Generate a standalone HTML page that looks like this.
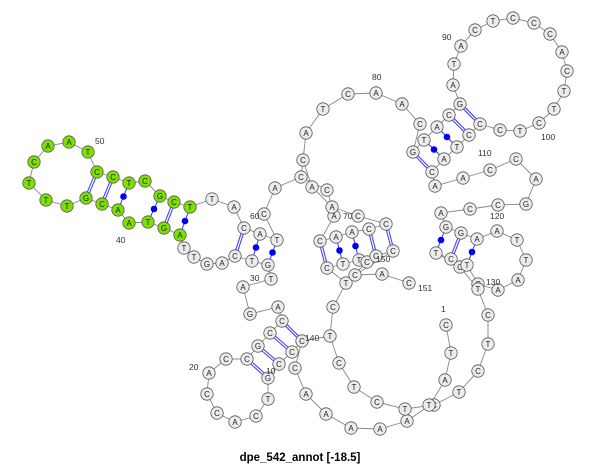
<!DOCTYPE html>
<html><head><meta charset="utf-8"><style>
html,body{margin:0;padding:0;background:#fff;}
svg{display:block}
.b{fill:none;stroke:#888;stroke-width:0.9}
.d1{stroke:#4444ff;stroke-width:3.4}
.d2{stroke:#fff;stroke-width:1.2}
.p{stroke:#3333ff;stroke-width:1}
circle.n{fill:#ececec;stroke:#555;stroke-width:0.8}
circle.g{fill:#7de000;stroke:#555;stroke-width:0.8}
circle{r:6.2px}
text{font-family:"Liberation Sans",sans-serif}
.t text{font-size:8px;text-anchor:middle;fill:#222}
.l{font-size:8.5px;fill:#333}
</style></head><body>
<svg width="600" height="466" viewBox="0 0 600 466">
<polyline class="b" points="88,152 69,142 48,146 34,162 29,183 46,200 67,206 86,198 102,204 118,210 129,223 148,222 164,228 180,235 184,248 194,257 207,264 222,263 235,256 252,261 268,265 271,279 243,287 250,314 278,307 282,321 270,333 258,346 247,359 226,359 209,373 207,394 217,413 235,422 256,416 268,399 268,378 279,364 292,352 302,341 295,368 306,394 326,414 351,428 380,429 407,421 430,405 445,380 451,353 446,325"/>
<polyline class="b" points="88,152 97,172 113,177 129,183 145,181 160,196 174,202 190,207 212,199 234,207 244,228 260,234 277,240 264,214 275,188 301,177 303,160 306,133 323,109 348,94 376,93 402,104 420,124 413,152 424,140 437,127 449,115 460,104 453,85 454,64 461,46 475,30 493,21 513,18 534,23 550,34 562,52 567,71 564,91 554,109 539,123 520,131 500,130 480,124 469,135 457,147 444,159 432,172 435,186 463,178 490,170 516,159 536,179 526,204 498,205 470,209 441,213 446,227 461,233 477,239 497,231 517,240 526,260 518,280 498,290 478,284 467,265 451,259 436,253 460,267 478,289 488,315 488,344 478,371 459,392 434,405 405,409 377,402 354,387 339,363 330,336 333,307 346,283 355,275"/>
<polyline class="b" points="303,160 312,187 332,207 358,216 386,224"/>
<polyline class="b" points="301,177 327,190 332,207 334,216 320,241 336,237 352,232 369,229 386,224"/>
<polyline class="b" points="327,268 343,264 359,260 376,256 393,251 355,275 382,274 409,283"/>
<polyline class="b" points="327,268 346,283 367,262"/>
<line class="b" x1="302" y1="341" x2="330" y2="336"/>
<g fill="none">
<path class="d1" d="M97,172L86,198M113,177L102,204M174,202L164,228M244,228L235,256M282,321L302,341M270,333L292,352M258,346L279,364M247,359L268,378M413,152L432,172M449,115L469,135M460,104L480,124M461,233L451,259M320,241L327,268M369,229L376,256M386,224L393,251"/>
<path class="d2" d="M97,172L86,198M113,177L102,204M174,202L164,228M244,228L235,256M282,321L302,341M270,333L292,352M258,346L279,364M247,359L268,378M413,152L432,172M449,115L469,135M460,104L480,124M461,233L451,259M320,241L327,268M369,229L376,256M386,224L393,251"/>
<path class="p" d="M129,183L118,210M160,196L148,222M190,207L180,235M260,234L252,261M277,240L268,265M424,140L444,159M437,127L457,147M446,227L436,253M477,239L467,265M336,237L343,264M352,232L359,260"/>
</g>
<g fill="#0000ee">
<circle cx="123.5" cy="196.5" r="3.3" style="r:3.3px"/><circle cx="154" cy="209" r="3.3" style="r:3.3px"/><circle cx="185" cy="221" r="3.3" style="r:3.3px"/><circle cx="256" cy="247.5" r="3.3" style="r:3.3px"/><circle cx="272.5" cy="252.5" r="3.3" style="r:3.3px"/><circle cx="434" cy="149.5" r="3.3" style="r:3.3px"/><circle cx="447" cy="137" r="3.3" style="r:3.3px"/><circle cx="441" cy="240" r="3.3" style="r:3.3px"/><circle cx="472" cy="252" r="3.3" style="r:3.3px"/><circle cx="339.5" cy="250.5" r="3.3" style="r:3.3px"/><circle cx="355.5" cy="246" r="3.3" style="r:3.3px"/>
</g>
<g class="t">
<g><circle class="g" cx="48" cy="146"/><text x="48" y="149">A</text></g>
<g><circle class="g" cx="69" cy="142"/><text x="69" y="145">A</text></g>
<g><circle class="g" cx="88" cy="152"/><text x="88" y="155">T</text></g>
<g><circle class="g" cx="34" cy="162"/><text x="34" y="165">C</text></g>
<g><circle class="g" cx="29" cy="183"/><text x="29" y="186">T</text></g>
<g><circle class="g" cx="46" cy="200"/><text x="46" y="203">T</text></g>
<g><circle class="g" cx="67" cy="206"/><text x="67" y="209">T</text></g>
<g><circle class="g" cx="86" cy="198"/><text x="86" y="201">G</text></g>
<g><circle class="g" cx="97" cy="172"/><text x="97" y="175">C</text></g>
<g><circle class="g" cx="113" cy="177"/><text x="113" y="180">C</text></g>
<g><circle class="g" cx="129" cy="183"/><text x="129" y="186">T</text></g>
<g><circle class="g" cx="145" cy="181"/><text x="145" y="184">C</text></g>
<g><circle class="g" cx="102" cy="204"/><text x="102" y="207">C</text></g>
<g><circle class="g" cx="118" cy="210"/><text x="118" y="213">A</text></g>
<g><circle class="g" cx="129" cy="223"/><text x="129" y="226">A</text></g>
<g><circle class="g" cx="148" cy="222"/><text x="148" y="225">T</text></g>
<g><circle class="g" cx="160" cy="196"/><text x="160" y="199">G</text></g>
<g><circle class="g" cx="174" cy="202"/><text x="174" y="205">C</text></g>
<g><circle class="g" cx="190" cy="207"/><text x="190" y="210">T</text></g>
<g><circle class="g" cx="164" cy="228"/><text x="164" y="231">G</text></g>
<g><circle class="g" cx="180" cy="235"/><text x="180" y="238">A</text></g>
<g><circle class="n" cx="212" cy="199"/><text x="212" y="202">T</text></g>
<g><circle class="n" cx="234" cy="207"/><text x="234" y="210">A</text></g>
<g><circle class="n" cx="244" cy="228"/><text x="244" y="231">C</text></g>
<g><circle class="n" cx="260" cy="234"/><text x="260" y="237">A</text></g>
<g><circle class="n" cx="277" cy="240"/><text x="277" y="243">T</text></g>
<g><circle class="n" cx="264" cy="214"/><text x="264" y="217">C</text></g>
<g><circle class="n" cx="275" cy="188"/><text x="275" y="191">A</text></g>
<g><circle class="n" cx="301" cy="177"/><text x="301" y="180">C</text></g>
<g><circle class="n" cx="303" cy="160"/><text x="303" y="163">C</text></g>
<g><circle class="n" cx="306" cy="133"/><text x="306" y="136">A</text></g>
<g><circle class="n" cx="323" cy="109"/><text x="323" y="112">T</text></g>
<g><circle class="n" cx="348" cy="94"/><text x="348" y="97">C</text></g>
<g><circle class="n" cx="376" cy="93"/><text x="376" y="96">A</text></g>
<g><circle class="n" cx="402" cy="104"/><text x="402" y="107">A</text></g>
<g><circle class="n" cx="420" cy="124"/><text x="420" y="127">C</text></g>
<g><circle class="n" cx="413" cy="152"/><text x="413" y="155">G</text></g>
<g><circle class="n" cx="424" cy="140"/><text x="424" y="143">T</text></g>
<g><circle class="n" cx="437" cy="127"/><text x="437" y="130">A</text></g>
<g><circle class="n" cx="449" cy="115"/><text x="449" y="118">C</text></g>
<g><circle class="n" cx="460" cy="104"/><text x="460" y="107">G</text></g>
<g><circle class="n" cx="453" cy="85"/><text x="453" y="88">A</text></g>
<g><circle class="n" cx="454" cy="64"/><text x="454" y="67">T</text></g>
<g><circle class="n" cx="461" cy="46"/><text x="461" y="49">A</text></g>
<g><circle class="n" cx="475" cy="30"/><text x="475" y="33">C</text></g>
<g><circle class="n" cx="493" cy="21"/><text x="493" y="24">T</text></g>
<g><circle class="n" cx="513" cy="18"/><text x="513" y="21">C</text></g>
<g><circle class="n" cx="534" cy="23"/><text x="534" y="26">C</text></g>
<g><circle class="n" cx="550" cy="34"/><text x="550" y="37">C</text></g>
<g><circle class="n" cx="562" cy="52"/><text x="562" y="55">A</text></g>
<g><circle class="n" cx="567" cy="71"/><text x="567" y="74">C</text></g>
<g><circle class="n" cx="564" cy="91"/><text x="564" y="94">T</text></g>
<g><circle class="n" cx="554" cy="109"/><text x="554" y="112">T</text></g>
<g><circle class="n" cx="539" cy="123"/><text x="539" y="126">C</text></g>
<g><circle class="n" cx="520" cy="131"/><text x="520" y="134">T</text></g>
<g><circle class="n" cx="500" cy="130"/><text x="500" y="133">C</text></g>
<g><circle class="n" cx="480" cy="124"/><text x="480" y="127">C</text></g>
<g><circle class="n" cx="469" cy="135"/><text x="469" y="138">C</text></g>
<g><circle class="n" cx="457" cy="147"/><text x="457" y="150">T</text></g>
<g><circle class="n" cx="444" cy="159"/><text x="444" y="162">A</text></g>
<g><circle class="n" cx="432" cy="172"/><text x="432" y="175">C</text></g>
<g><circle class="n" cx="435" cy="186"/><text x="435" y="189">A</text></g>
<g><circle class="n" cx="463" cy="178"/><text x="463" y="181">A</text></g>
<g><circle class="n" cx="490" cy="170"/><text x="490" y="173">C</text></g>
<g><circle class="n" cx="516" cy="159"/><text x="516" y="162">C</text></g>
<g><circle class="n" cx="536" cy="179"/><text x="536" y="182">A</text></g>
<g><circle class="n" cx="526" cy="204"/><text x="526" y="207">G</text></g>
<g><circle class="n" cx="498" cy="205"/><text x="498" y="208">C</text></g>
<g><circle class="n" cx="470" cy="209"/><text x="470" y="212">C</text></g>
<g><circle class="n" cx="441" cy="213"/><text x="441" y="216">A</text></g>
<g><circle class="n" cx="446" cy="227"/><text x="446" y="230">G</text></g>
<g><circle class="n" cx="461" cy="233"/><text x="461" y="236">G</text></g>
<g><circle class="n" cx="477" cy="239"/><text x="477" y="242">A</text></g>
<g><circle class="n" cx="497" cy="231"/><text x="497" y="234">A</text></g>
<g><circle class="n" cx="517" cy="240"/><text x="517" y="243">T</text></g>
<g><circle class="n" cx="526" cy="260"/><text x="526" y="263">T</text></g>
<g><circle class="n" cx="518" cy="280"/><text x="518" y="283">A</text></g>
<g><circle class="n" cx="498" cy="290"/><text x="498" y="293">A</text></g>
<g><circle class="n" cx="478" cy="284"/><text x="478" y="287">C</text></g>
<g><circle class="n" cx="478" cy="289"/><text x="478" y="292">T</text></g>
<g><circle class="n" cx="436" cy="253"/><text x="436" y="256">T</text></g>
<g><circle class="n" cx="451" cy="259"/><text x="451" y="262">C</text></g>
<g><circle class="n" cx="460" cy="267"/><text x="460" y="270">C</text></g>
<g><circle class="n" cx="467" cy="265"/><text x="467" y="268">T</text></g>
<g><circle class="n" cx="488" cy="315"/><text x="488" y="318">C</text></g>
<g><circle class="n" cx="488" cy="344"/><text x="488" y="347">T</text></g>
<g><circle class="n" cx="478" cy="371"/><text x="478" y="374">C</text></g>
<g><circle class="n" cx="459" cy="392"/><text x="459" y="395">T</text></g>
<g><circle class="n" cx="434" cy="405"/><text x="434" y="408">C</text></g>
<g><circle class="n" cx="429" cy="405"/><text x="429" y="408">T</text></g>
<g><circle class="n" cx="445" cy="380"/><text x="445" y="383">A</text></g>
<g><circle class="n" cx="451" cy="353"/><text x="451" y="356">T</text></g>
<g><circle class="n" cx="446" cy="325"/><text x="446" y="328">C</text></g>
<g><circle class="n" cx="407" cy="421"/><text x="407" y="424">A</text></g>
<g><circle class="n" cx="380" cy="429"/><text x="380" y="432">A</text></g>
<g><circle class="n" cx="351" cy="428"/><text x="351" y="431">A</text></g>
<g><circle class="n" cx="326" cy="414"/><text x="326" y="417">A</text></g>
<g><circle class="n" cx="306" cy="394"/><text x="306" y="397">A</text></g>
<g><circle class="n" cx="295" cy="368"/><text x="295" y="371">C</text></g>
<g><circle class="n" cx="302" cy="341"/><text x="302" y="344">C</text></g>
<g><circle class="n" cx="292" cy="352"/><text x="292" y="355">C</text></g>
<g><circle class="n" cx="279" cy="364"/><text x="279" y="367">C</text></g>
<g><circle class="n" cx="268" cy="378"/><text x="268" y="381">G</text></g>
<g><circle class="n" cx="268" cy="399"/><text x="268" y="402">T</text></g>
<g><circle class="n" cx="256" cy="416"/><text x="256" y="419">C</text></g>
<g><circle class="n" cx="235" cy="422"/><text x="235" y="425">A</text></g>
<g><circle class="n" cx="217" cy="413"/><text x="217" y="416">C</text></g>
<g><circle class="n" cx="207" cy="394"/><text x="207" y="397">C</text></g>
<g><circle class="n" cx="209" cy="373"/><text x="209" y="376">A</text></g>
<g><circle class="n" cx="226" cy="359"/><text x="226" y="362">C</text></g>
<g><circle class="n" cx="247" cy="359"/><text x="247" y="362">C</text></g>
<g><circle class="n" cx="258" cy="346"/><text x="258" y="349">G</text></g>
<g><circle class="n" cx="270" cy="333"/><text x="270" y="336">C</text></g>
<g><circle class="n" cx="282" cy="321"/><text x="282" y="324">C</text></g>
<g><circle class="n" cx="278" cy="307"/><text x="278" y="310">A</text></g>
<g><circle class="n" cx="250" cy="314"/><text x="250" y="317">G</text></g>
<g><circle class="n" cx="243" cy="287"/><text x="243" y="290">A</text></g>
<g><circle class="n" cx="271" cy="279"/><text x="271" y="282">T</text></g>
<g><circle class="n" cx="268" cy="265"/><text x="268" y="268">G</text></g>
<g><circle class="n" cx="252" cy="261"/><text x="252" y="264">T</text></g>
<g><circle class="n" cx="235" cy="256"/><text x="235" y="259">C</text></g>
<g><circle class="n" cx="222" cy="263"/><text x="222" y="266">A</text></g>
<g><circle class="n" cx="207" cy="264"/><text x="207" y="267">G</text></g>
<g><circle class="n" cx="194" cy="257"/><text x="194" y="260">T</text></g>
<g><circle class="n" cx="184" cy="248"/><text x="184" y="251">T</text></g>
<g><circle class="n" cx="330" cy="336"/><text x="330" y="339">T</text></g>
<g><circle class="n" cx="333" cy="307"/><text x="333" y="310">C</text></g>
<g><circle class="n" cx="346" cy="283"/><text x="346" y="286">T</text></g>
<g><circle class="n" cx="355" cy="275"/><text x="355" y="278">C</text></g>
<g><circle class="n" cx="382" cy="274"/><text x="382" y="277">A</text></g>
<g><circle class="n" cx="409" cy="283"/><text x="409" y="286">C</text></g>
<g><circle class="n" cx="327" cy="268"/><text x="327" y="271">C</text></g>
<g><circle class="n" cx="343" cy="264"/><text x="343" y="267">T</text></g>
<g><circle class="n" cx="359" cy="260"/><text x="359" y="263">T</text></g>
<g><circle class="n" cx="367" cy="262"/><text x="367" y="265">C</text></g>
<g><circle class="n" cx="376" cy="256"/><text x="376" y="259">C</text></g>
<g><circle class="n" cx="393" cy="251"/><text x="393" y="254">C</text></g>
<g><circle class="n" cx="320" cy="241"/><text x="320" y="244">C</text></g>
<g><circle class="n" cx="336" cy="237"/><text x="336" y="240">A</text></g>
<g><circle class="n" cx="352" cy="232"/><text x="352" y="235">A</text></g>
<g><circle class="n" cx="369" cy="229"/><text x="369" y="232">C</text></g>
<g><circle class="n" cx="386" cy="224"/><text x="386" y="227">C</text></g>
<g><circle class="n" cx="358" cy="216"/><text x="358" y="219">C</text></g>
<g><circle class="n" cx="334" cy="216"/><text x="334" y="219">A</text></g>
<g><circle class="n" cx="332" cy="207"/><text x="332" y="210">A</text></g>
<g><circle class="n" cx="312" cy="187"/><text x="312" y="190">A</text></g>
<g><circle class="n" cx="327" cy="190"/><text x="327" y="193">C</text></g>
<g><circle class="n" cx="339" cy="363"/><text x="339" y="366">C</text></g>
<g><circle class="n" cx="354" cy="387"/><text x="354" y="390">T</text></g>
<g><circle class="n" cx="377" cy="402"/><text x="377" y="405">C</text></g>
<g><circle class="n" cx="405" cy="409"/><text x="405" y="412">T</text></g>
</g>
<g class="l">
<text x="95" y="144">50</text><text x="116" y="243">40</text><text x="250" y="219">60</text>
<text x="250" y="281">30</text><text x="189" y="370">20</text><text x="266" y="374">10</text>
<text x="305" y="341">140</text><text x="376" y="262">150</text><text x="418" y="291">151</text>
<text x="441" y="312">1</text><text x="343" y="219">70</text><text x="372" y="80">80</text>
<text x="442" y="40">90</text><text x="541" y="140">100</text><text x="478" y="156">110</text>
<text x="490" y="219">120</text><text x="486" y="285">130</text>
</g>
<text x="300" y="461" text-anchor="middle" font-size="11.5" font-weight="bold" fill="#000">dpe_542_annot [-18.5]</text>
</svg>
</body></html>
